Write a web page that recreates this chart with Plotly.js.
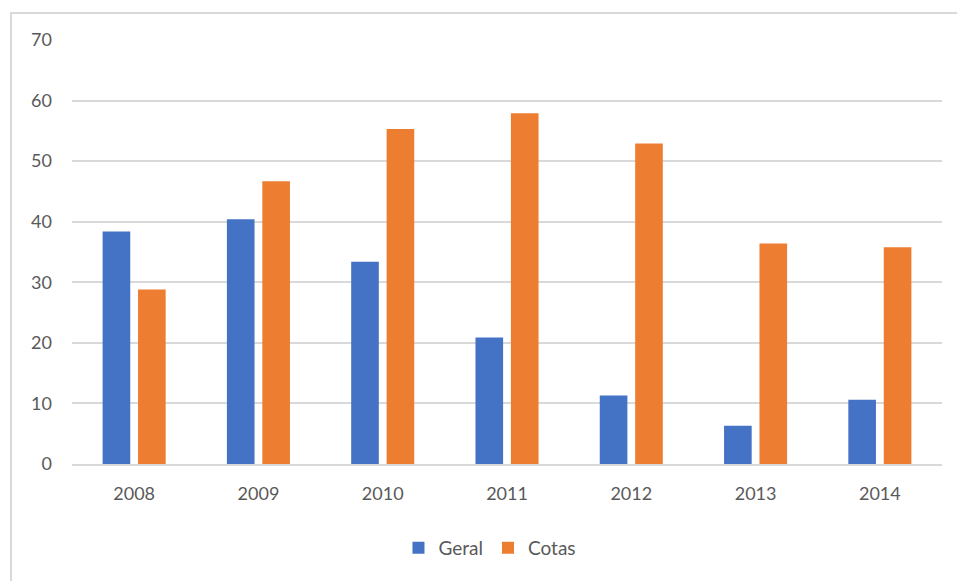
<!DOCTYPE html>
<html>
<head>
<meta charset="utf-8">
<script src="https://cdn.plot.ly/plotly-3.0.1.min.js"></script>
<style>
  html, body { margin: 0; padding: 0; background: #ffffff; overflow: hidden; }
  #chart { position: absolute; left: 0; top: 0; width: 957px; height: 581px; }
  #frame {
    position: absolute; left: 10px; top: 12px; width: 1000px; height: 1000px;
    border: 2px solid #d9d9d9; box-sizing: border-box; pointer-events: none;
  }
</style>
</head>
<body>
<div id="chart"></div>
<div id="frame"></div>
<script>
// Years on the category axis
const years = ['2008', '2009', '2010', '2011', '2012', '2013', '2014'];
// Series values
const geral = [38.4, 40.4, 33.4, 20.9, 11.3, 6.3, 10.6];
const cotas = [28.8, 46.7, 55.3, 57.9, 52.9, 36.4, 35.8];
// Value axis ticks
const yTicks = [0, 10, 20, 30, 40, 50, 60, 70];

const textColor = '#595959';
const gridColor = '#d9d9d9';
const fontFamily = 'Lato, "Open Sans", sans-serif';

const traces = [
  { type: 'bar', name: 'Geral', x: years, y: geral,
    marker: { color: '#4472C4' }, hoverinfo: 'x+y' },
  { type: 'bar', name: 'Cotas', x: years, y: cotas,
    marker: { color: '#ED7D31' }, hoverinfo: 'x+y' }
];

const layout = {
  width: 957, height: 581,
  margin: { l: 72, r: 15, t: 40, b: 117 },
  paper_bgcolor: 'rgba(0,0,0,0)',
  plot_bgcolor: '#ffffff',
  font: { family: fontFamily, size: 18, color: textColor },
  barmode: 'group',
  bargap: 0.43,
  bargroupgap: 0.22,
  showlegend: true,
  legend: {
    orientation: 'h',
    xref: 'container', x: 0.512, xanchor: 'center',
    yref: 'container', y: 1 - 548 / 581, yanchor: 'middle',
    font: { family: fontFamily, size: 19, color: textColor },
    itemwidth: 30, itemclick: false
  },
  xaxis: {
    type: 'category',
    showgrid: false,
    showline: true, linecolor: gridColor, linewidth: 2,
    ticks: 'outside', ticklen: 12, tickcolor: 'rgba(0,0,0,0)',
    tickfont: { family: fontFamily, size: 18, color: textColor },
    fixedrange: true
  },
  yaxis: {
    range: [0, 70],
    tickvals: yTicks,
    ticktext: yTicks.map(String),
    showgrid: true, gridcolor: gridColor, gridwidth: 2,
    zeroline: false, showline: false,
    ticks: '',
    ticklabelstandoff: 19,
    tickfont: { family: fontFamily, size: 18, color: textColor },
    fixedrange: true
  }
};

Plotly.newPlot('chart', traces, layout, { staticPlot: true, displayModeBar: false });
</script>
</body>
</html>
